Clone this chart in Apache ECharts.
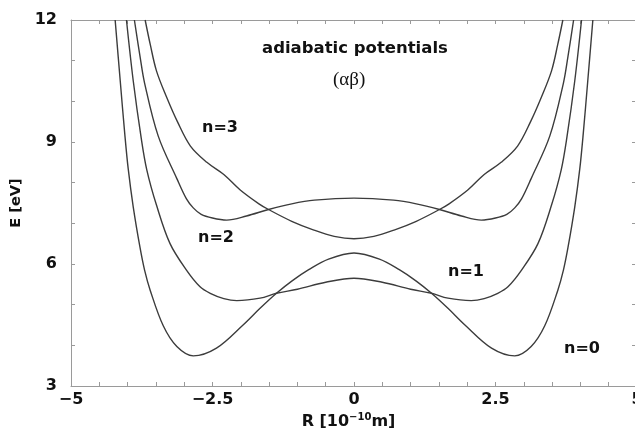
<!DOCTYPE html>
<html>
<head>
<meta charset="utf-8">
<script src="https://cdn.jsdelivr.net/npm/echarts@6/dist/echarts.min.js"></script>
<style>
html,body{margin:0;padding:0;background:#fff;}
#chart{width:635px;height:432px;}
</style>
</head>
<body>
<div id="chart"></div>
<script>
// R in 10^-10 m, E in eV
const n0X = [-4.22,-4.13,-4.05,-3.99,-3.90,-3.78,-3.70,-3.60,-3.37,-3.13,-2.84,-2.43,-1.96,-1.66,-1.37,-1.10,-0.80,-0.45,0,0.45,0.80,1.10,1.37,1.66,1.96,2.43,2.84,3.13,3.37,3.60,3.70,3.78,3.90,3.99,4.05,4.13,4.22];
const n0Y = [12,10.5,9.2,8.35,7.4,6.4,5.85,5.35,4.48,3.97,3.74,3.93,4.5,4.91,5.28,5.58,5.86,6.12,6.27,6.12,5.86,5.58,5.28,4.91,4.5,3.93,3.74,3.97,4.48,5.35,5.85,6.4,7.4,8.35,9.2,10.5,12];

const n1X = [-4.02,-3.90,-3.76,-3.66,-3.49,-3.25,-2.96,-2.72,-2.54,-2.30,-2.07,-1.66,-1.37,-1.00,-0.50,0,0.50,1.00,1.37,1.66,2.07,2.30,2.54,2.72,2.96,3.25,3.49,3.66,3.76,3.90,4.02];
const n1Y = [12,10.5,9.1,8.31,7.45,6.5,5.85,5.44,5.28,5.15,5.10,5.16,5.28,5.38,5.55,5.65,5.55,5.38,5.28,5.16,5.10,5.15,5.28,5.44,5.85,6.5,7.45,8.31,9.1,10.5,12];

const n2X = [-3.88,-3.78,-3.70,-3.46,-3.13,-2.96,-2.84,-2.70,-2.50,-2.25,-1.90,-1.51,-1.10,-0.70,0,0.70,1.10,1.51,1.90,2.25,2.50,2.70,2.84,2.96,3.13,3.46,3.70,3.78,3.88];
const n2Y = [12,11.1,10.45,9.15,8.1,7.6,7.38,7.22,7.13,7.08,7.18,7.34,7.48,7.57,7.62,7.57,7.48,7.34,7.18,7.08,7.13,7.22,7.38,7.6,8.1,9.15,10.45,11.1,12];

const n3X = [-3.69,-3.60,-3.49,-3.31,-3.12,-2.89,-2.60,-2.30,-2.01,-1.68,-1.51,-1.10,-0.72,-0.35,0,0.35,0.72,1.10,1.51,1.68,2.01,2.30,2.60,2.89,3.12,3.31,3.49,3.60,3.69];
const n3Y = [12,11.4,10.75,10.1,9.5,8.9,8.5,8.2,7.82,7.48,7.34,7.05,6.84,6.68,6.62,6.68,6.84,7.05,7.34,7.48,7.82,8.2,8.5,8.9,9.5,10.1,10.75,11.4,12];

const xMin = -5, xMax = 5, xStep = 2.5;
const yMin = 3, yMax = 12, yStep = 3;

const curveLabels = ['n=0','n=1','n=2','n=3'];
const titleText = 'adiabatic potentials';
const subText = '(αβ)';

function pairs(xs, ys){ return xs.map((x,i)=>[x, ys[i]]); }

const chart = echarts.init(document.getElementById('chart'), null, {renderer:'canvas'});
const frameColor = '#9a9a9a';
const lineColor = '#3c3c3c';
const FAM = '"DejaVu Sans", Verdana, sans-serif';
const fontBold = {fontFamily:FAM, fontWeight:'bold', color:'#111'};

function fmtNum(v){ return String(v).replace('-', '\u2212'); }

const mkSeries = (name, xs, ys) => ({
  name, type:'line', data: pairs(xs, ys), smooth:0.35, showSymbol:false, symbol:'none',
  lineStyle:{color:lineColor, width:1.4}, clip:true, z:3
});

const tickCommon = (len) => ({
  axisLine:{show:true, onZero:false, lineStyle:{color:frameColor, width:1}},
  axisTick:{show:true, inside:true, length:len, lineStyle:{color:frameColor}},
  splitLine:{show:false}
});

chart.setOption({
  animation:false,
  backgroundColor:'#fff',
  grid:{left:71, top:20, width:566, height:366, containLabel:false, outerBoundsMode:'none'},
  xAxis:[{
    type:'value', min:xMin, max:xMax, interval:xStep, position:'bottom',
    ...tickCommon(4),
    minorTick:{show:true, splitNumber:5, length:4, lineStyle:{color:frameColor}},
    axisLabel:{formatter:fmtNum, fontSize:16, margin:6, ...fontBold},
    name:'R [10{sup|\u221210}m]', nameLocation:'middle', nameGap:25,
    nameTextStyle:{fontSize:16, ...fontBold, padding:[0,11,0,0],
      rich:{sup:{fontSize:10, fontWeight:'bold', fontFamily:FAM, verticalAlign:'top', padding:[0,0,8,0], color:'#111'}}}
  },{
    type:'value', min:xMin, max:xMax, interval:xStep, position:'top',
    ...tickCommon(4),
    minorTick:{show:true, splitNumber:5, length:4, lineStyle:{color:frameColor}},
    axisLabel:{show:false}
  }],
  yAxis:[{
    type:'value', min:yMin, max:yMax, interval:yStep, position:'left',
    ...tickCommon(4),
    minorTick:{show:true, splitNumber:3, length:4, lineStyle:{color:frameColor}},
    axisLabel:{fontSize:16, margin:14, ...fontBold},
    name:'E [eV]', nameLocation:'middle', nameGap:43, nameRotate:90,
    nameTextStyle:{fontSize:14.5, ...fontBold}
  },{
    type:'value', min:yMin, max:yMax, interval:yStep, position:'right',
    ...tickCommon(5),
    minorTick:{show:true, splitNumber:3, length:5, lineStyle:{color:frameColor}},
    axisLabel:{show:false}
  }],
  series:[
    mkSeries(curveLabels[0], n0X, n0Y),
    mkSeries(curveLabels[1], n1X, n1Y),
    mkSeries(curveLabels[2], n2X, n2Y),
    mkSeries(curveLabels[3], n3X, n3Y)
  ],
  graphic:[
    {type:'text', x:262, y:49, style:{text:titleText, font:'bold 16.5px "DejaVu Sans", sans-serif', fill:'#111', verticalAlign:'middle'}},
    {type:'text', x:333, y:80, style:{text:subText, font:'19px "Liberation Serif", "Times New Roman", serif', fill:'#111', verticalAlign:'middle'}},
    {type:'text', x:202, y:128, style:{text:curveLabels[3], font:'bold 16px "DejaVu Sans", sans-serif', fill:'#111', verticalAlign:'middle'}},
    {type:'text', x:198, y:238, style:{text:curveLabels[2], font:'bold 16px "DejaVu Sans", sans-serif', fill:'#111', verticalAlign:'middle'}},
    {type:'text', x:448, y:272, style:{text:curveLabels[1], font:'bold 16px "DejaVu Sans", sans-serif', fill:'#111', verticalAlign:'middle'}},
    {type:'text', x:564, y:349, style:{text:curveLabels[0], font:'bold 16px "DejaVu Sans", sans-serif', fill:'#111', verticalAlign:'middle'}}
  ]
});
</script>
</body>
</html>
